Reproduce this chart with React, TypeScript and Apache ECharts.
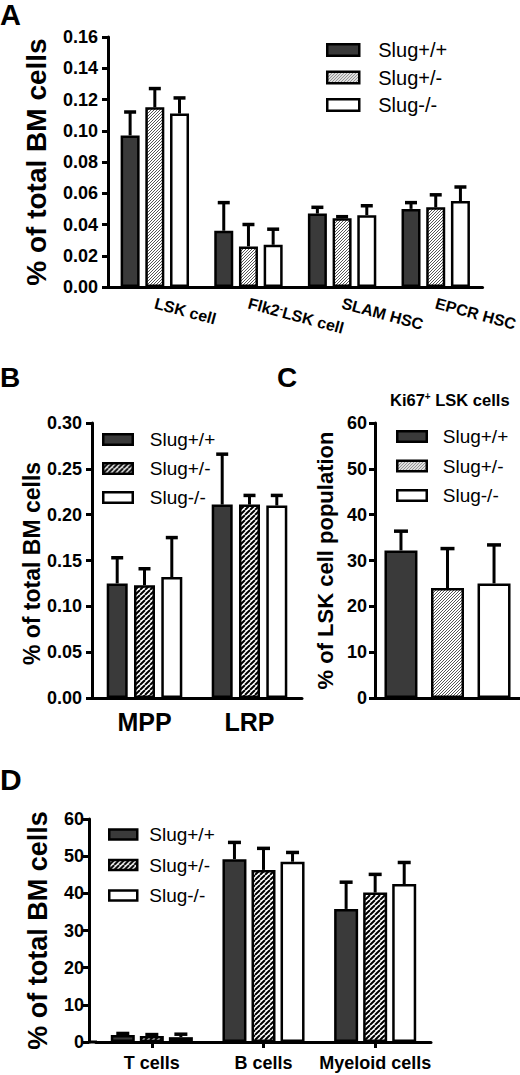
import React, { useEffect, useRef } from 'react';
import * as echarts from 'echarts';

// ---------- data ----------
const genotypes = ['Slug+/+', 'Slug+/-', 'Slug-/-'];

// Panel A
const categoriesA = ['LSK cell', 'Flk2⁻LSK cell', 'SLAM HSC', 'EPCR HSC'];
const wtA = [0.097, 0.036, 0.047, 0.050];
const hetA = [0.115, 0.026, 0.044, 0.051];
const koA = [0.111, 0.027, 0.046, 0.055];
const wtAErr = [0.015, 0.018, 0.004, 0.004];
const hetAErr = [0.012, 0.014, 0.001, 0.008];
const koAErr = [0.010, 0.010, 0.006, 0.009];
const yTicksA = [0, 0.02, 0.04, 0.06, 0.08, 0.1, 0.12, 0.14, 0.16];

// Panel B
const categoriesB = ['MPP', 'LRP'];
const wtB = [0.125, 0.211];
const hetB = [0.123, 0.211];
const koB = [0.132, 0.210];
const wtBErr = [0.028, 0.055];
const hetBErr = [0.018, 0.010];
const koBErr = [0.043, 0.011];
const yTicksB = [0, 0.05, 0.1, 0.15, 0.2, 0.25, 0.3];

// Panel C
const titleC = 'Ki67⁺ LSK cells';
const categoriesC = [''];
const wtC = [32.2];
const hetC = [24.0];
const koC = [25.0];
const wtCErr = [4.2];
const hetCErr = [8.6];
const koCErr = [8.4];
const yTicksC = [0, 10, 20, 30, 40, 50, 60];

// Panel D
const categoriesD = ['T cells', 'B cells', 'Myeloid cells'];
const wtD = [1.9, 49.2, 35.8];
const hetD = [1.6, 46.3, 40.2];
const koD = [1.3, 48.5, 42.5];
const wtDErr = [0.4, 4.5, 7.2];
const hetDErr = [0.4, 5.8, 4.9];
const koDErr = [0.8, 2.5, 5.8];
const yTicksD = [0, 10, 20, 30, 40, 50, 60];

const panelLetters = ['A', 'B', 'C', 'D'];
const yTitleABD = '% of total BM cells';
const yTitleC = '% of LSK cell population';

// ---------- styling helpers ----------
const FONT = "'Liberation Sans', Arial, Helvetica, sans-serif";
const DARK = '#3a3a3a';

function hatch(size: number, lw: number, color: string) {
  const c = document.createElement('canvas');
  c.width = size;
  c.height = size;
  const ctx = c.getContext('2d')!;
  ctx.fillStyle = '#fff';
  ctx.fillRect(0, 0, size, size);
  ctx.strokeStyle = color;
  ctx.lineWidth = lw;
  ctx.beginPath();
  for (const o of [-size, 0, size]) {
    ctx.moveTo(o, size);
    ctx.lineTo(o + size, 0);
  }
  ctx.stroke();
  return { image: c, repeat: 'repeat', imageWidth: size, imageHeight: size } as any;
}

function buildOption() {
  const fine = hatch(3, 1, '#555');
  const coarse = hatch(5, 2, '#000');
  const fillsFine = [DARK, fine, '#fff'];
  const fillsCoarse = [DARK, coarse, '#fff'];

  const panels = [
    { cats: categoriesA, vals: [wtA, hetA, koA], errs: [wtAErr, hetAErr, koAErr], ticks: yTicksA, dec: 2, bw: 19, gap: 0.30, cap: 12, fills: fillsFine },
    { cats: categoriesB, vals: [wtB, hetB, koB], errs: [wtBErr, hetBErr, koBErr], ticks: yTicksB, dec: 2, bw: 21, gap: 0.30, cap: 12, fills: fillsCoarse },
    { cats: categoriesC, vals: [wtC, hetC, koC], errs: [wtCErr, hetCErr, koCErr], ticks: yTicksC, dec: 0, bw: 33, gap: 0.41, cap: 14, fills: fillsFine },
    { cats: categoriesD, vals: [wtD, hetD, koD], errs: [wtDErr, hetDErr, koDErr], ticks: yTicksD, dec: 0, bw: 24, gap: 0.21, cap: 13, fills: fillsCoarse },
  ];

  const grid = [
    { left: 108, top: 37, width: 379, height: 250 },
    { left: 92, top: 423, width: 210, height: 275 },
    { left: 375, top: 423, width: 145, height: 275 },
    { left: 96, top: 819, width: 335, height: 223 },
  ];

  const axisLine = { show: true, onZero: false, lineStyle: { color: '#000', width: 3 } };

  const yConf = [
    { name: yTitleABD, fs: 28, gap: 58, margin: 10, offset: 0, pad: [0, 0, 0, 0] },
    { name: yTitleABD, fs: 23, gap: 48, margin: 10, offset: 0, pad: [0, 6, 0, 0] },
    { name: yTitleC, fs: 22, gap: 39, margin: 8, offset: 0, pad: [0, 0, 0, 0] },
    { name: yTitleABD, fs: 27, gap: 38, margin: 5, offset: 7, pad: [0, 0, 0, 0] },
  ];

  const yAxis = panels.map((p, i) => ({
    type: 'value',
    gridIndex: i,
    min: p.ticks[0],
    max: p.ticks[p.ticks.length - 1],
    interval: +(p.ticks[1] - p.ticks[0]).toFixed(6),
    offset: yConf[i].offset,
    name: yConf[i].name,
    nameLocation: 'middle',
    nameGap: yConf[i].gap,
    nameTextStyle: { fontFamily: FONT, fontSize: yConf[i].fs, fontWeight: 'bold', color: '#000', padding: yConf[i].pad },
    axisLine,
    axisTick: { show: true, length: 6, lineStyle: { color: '#000', width: 3 } },
    splitLine: { show: false },
    axisLabel: {
      fontFamily: FONT, fontSize: 18, fontWeight: 'bold', color: '#000', margin: yConf[i].margin,
      formatter: (v: number) => v.toFixed(p.dec),
    },
  }));

  const richA = {
    a: { fontFamily: FONT, fontSize: 16, fontWeight: 'bold', color: '#000' },
    s: { fontFamily: FONT, fontSize: 10, fontWeight: 'bold', color: '#000', verticalAlign: 'top' },
  };

  const xAxis = [
    {
      type: 'category', gridIndex: 0, data: categoriesA, axisLine, axisTick: { show: false },
      axisLabel: {
        interval: 0, rotate: -15, margin: 16,
        formatter: (v: string) => '{a|' + v.replace('⁻', '}{s|-}{a|') + '}',
        rich: richA,
      },
    },
    {
      type: 'category', gridIndex: 1, data: categoriesB, axisLine, axisTick: { show: false },
      axisLabel: { interval: 0, margin: 11, fontFamily: FONT, fontSize: 25, fontWeight: 'bold', color: '#000' },
    },
    {
      type: 'category', gridIndex: 2, data: categoriesC, axisLine, axisTick: { show: false },
      axisLabel: { show: false },
    },
    {
      type: 'category', gridIndex: 3, data: categoriesD, axisLine,
      axisTick: { show: true, alignWithLabel: true, length: 6, lineStyle: { color: '#000', width: 3 } },
      axisLabel: { interval: 0, margin: 12, fontFamily: FONT, fontSize: 18, fontWeight: 'bold', color: '#000' },
    },
  ];

  const series: any[] = [];
  panels.forEach((p, i) => {
    p.vals.forEach((arr, s) => {
      series.push({
        type: 'bar',
        name: genotypes[s],
        xAxisIndex: i,
        yAxisIndex: i,
        data: arr,
        barWidth: p.bw,
        barGap: Math.round(p.gap * 100) + '%',
        itemStyle: { color: p.fills[s], borderColor: '#000', borderWidth: 2.5 },
        z: 2,
      });
    });
    const spacing = p.bw * (1 + p.gap);
    series.push({
      type: 'custom',
      name: 'err' + i,
      xAxisIndex: i,
      yAxisIndex: i,
      z: 3,
      silent: true,
      encode: { x: 0, y: 1 },
      data: p.vals.flatMap((arr, s) => arr.map((v, c) => [c, v, p.errs[s][c], s])),
      renderItem: (params: any, api: any) => {
        const c = api.value(0);
        const v = api.value(1);
        const e = api.value(2);
        const s = api.value(3);
        const p0 = api.coord([c, v]);
        const p1 = api.coord([c, v + e]);
        const x = p0[0] + (s - 1) * spacing;
        return {
          type: 'group',
          children: [
            { type: 'line', shape: { x1: x, y1: p0[1], x2: x, y2: p1[1] }, style: { stroke: '#000', lineWidth: 3 } },
            { type: 'line', shape: { x1: x - p.cap / 2, y1: p1[1], x2: x + p.cap / 2, y2: p1[1] }, style: { stroke: '#000', lineWidth: 3.5 } },
          ],
        };
      },
    });
  });

  const legendConf = [
    { left: 326, top: 40, iw: 32, ih: 11.5, pitch: 19, pad: 14, fs: 20, fills: fillsFine },
    { left: 102, top: 430, iw: 29.5, ih: 10.5, pitch: 20.5, pad: 12, fs: 19, fills: fillsCoarse },
    { left: 396, top: 427, iw: 29.5, ih: 10.5, pitch: 21, pad: 11, fs: 19, fills: fillsFine },
    { left: 108, top: 825, iw: 28, ih: 10, pitch: 21.5, pad: 7, fs: 19, fills: fillsCoarse },
  ];
  const legend = legendConf.map((l) => ({
    left: l.left,
    top: l.top,
    orient: 'vertical',
    padding: 0,
    selectedMode: false,
    icon: 'rect',
    itemWidth: l.iw,
    itemHeight: l.ih,
    itemGap: l.pitch - l.ih,
    textStyle: { fontFamily: FONT, fontSize: l.fs, color: '#000', lineHeight: l.ih, padding: [0, 0, 0, l.pad] },
    data: genotypes.map((g, i) => ({
      name: g,
      itemStyle: { color: l.fills[i], borderColor: '#000', borderWidth: 2.5 },
    })),
  }));

  const letterPos = [
    { left: 0, top: 0, fs: 29 },
    { left: 0, top: 363, fs: 28 },
    { left: 277, top: 363, fs: 28 },
    { left: 0, top: 764, fs: 30 },
  ];

  const graphic: any[] = panelLetters.map((t, i) => ({
    type: 'text',
    left: letterPos[i].left,
    top: letterPos[i].top,
    style: { text: t, font: `bold ${letterPos[i].fs}px ${FONT}`, fill: '#000' },
  }));
  // extend panel D's x axis line to its offset y axis
  graphic.push({
    type: 'line',
    shape: { x1: 88, y1: 1042, x2: 97, y2: 1042 },
    style: { stroke: '#000', lineWidth: 3 },
  });

  const title = {
    text: titleC.replace('⁺', '}{s|+}{m|').replace(/^/, '{m|') + '}',
    left: 390,
    top: 391,
    padding: 0,
    textStyle: {
      rich: {
        m: { fontFamily: FONT, fontSize: 16.5, fontWeight: 'bold', color: '#000' },
        s: { fontFamily: FONT, fontSize: 10, fontWeight: 'bold', color: '#000', verticalAlign: 'top' },
      },
    },
  };

  return {
    animation: false,
    backgroundColor: '#fff',
    title,
    grid,
    xAxis,
    yAxis,
    legend,
    series,
    graphic,
  };
}

export default function App() {
  const ref = useRef<HTMLDivElement>(null);
  useEffect(() => {
    document.body.style.margin = '0';
    const chart = echarts.init(ref.current!, null, { renderer: 'svg', width: 520, height: 1075 });
    chart.setOption(buildOption() as any);
    return () => chart.dispose();
  }, []);
  return <div ref={ref} style={{ width: 520, height: 1075 }} />;
}
